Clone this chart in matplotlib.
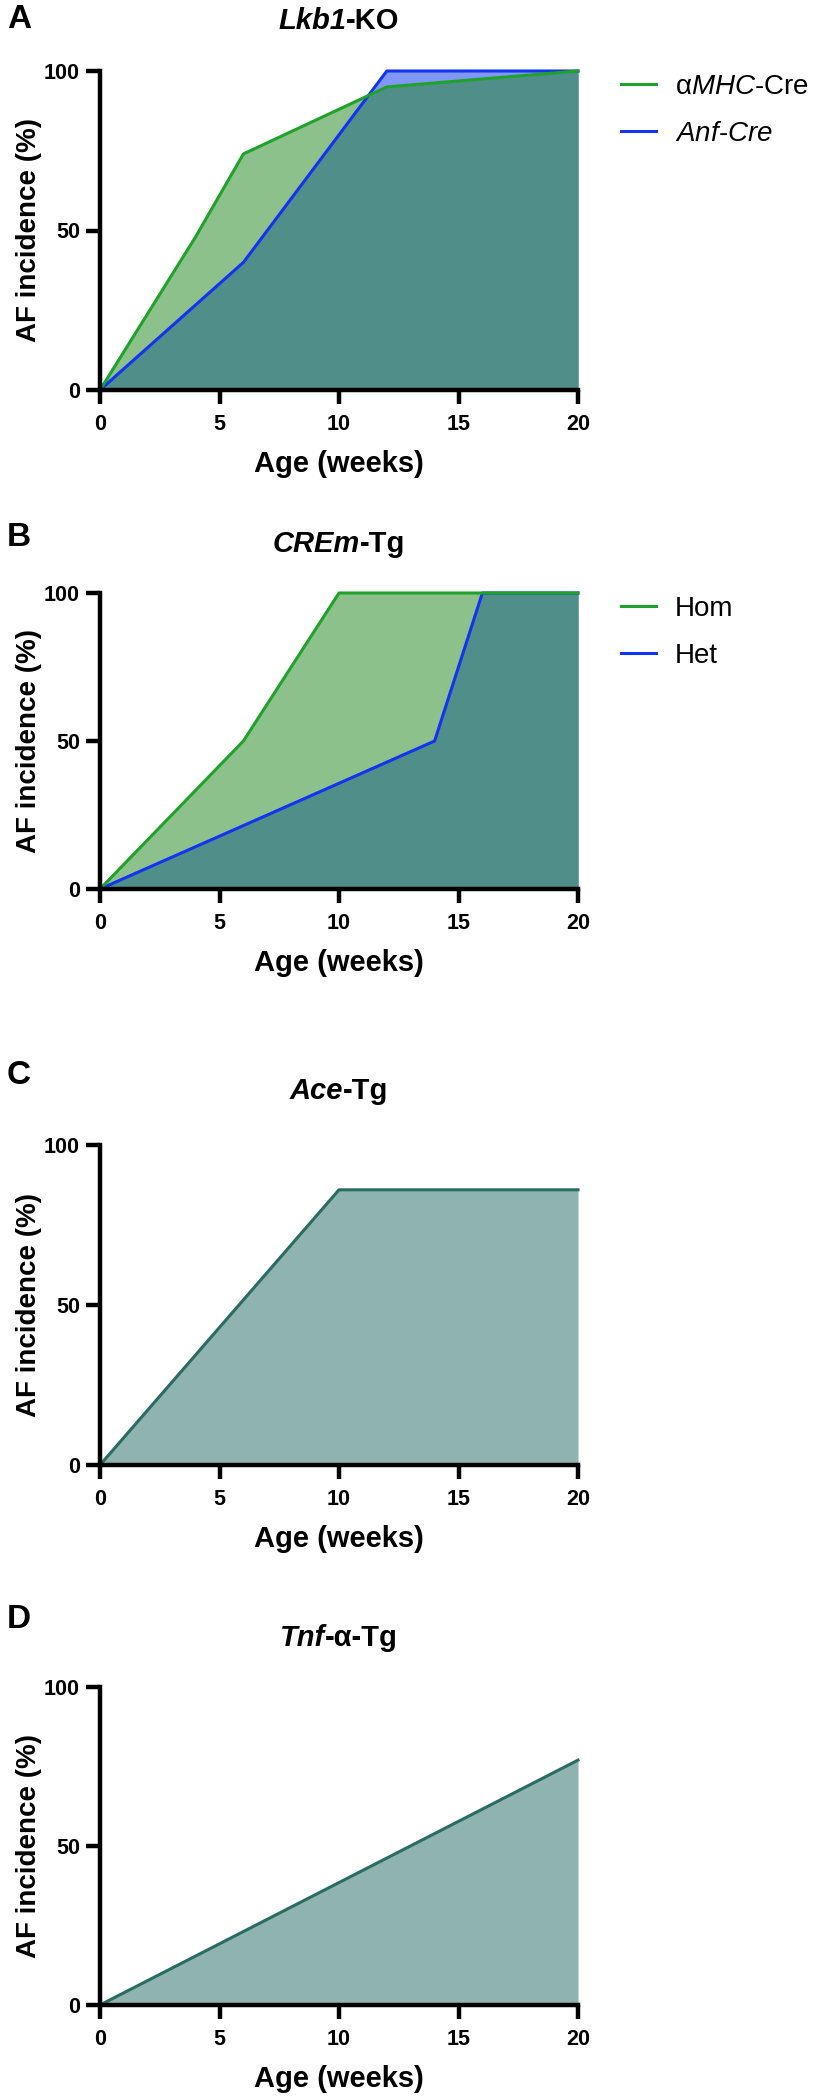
import numpy as np
import matplotlib
matplotlib.use("Agg")
import matplotlib.pyplot as plt
from matplotlib.offsetbox import TextArea, HPacker, AnchoredOffsetbox

plt.rcParams["font.family"] = ["Liberation Sans", "DejaVu Sans"]
plt.rcParams["mathtext.fontset"] = "custom"
plt.rcParams["mathtext.rm"] = "Liberation Sans"
plt.rcParams["mathtext.it"] = "Liberation Sans:italic"

# ---- data (age in weeks, AF incidence in %) ----
lkb1_mhc_x = [0, 4, 6, 12, 20]
lkb1_mhc_y = [0, 48, 74, 95, 100]
lkb1_anf_x = [0, 6, 12, 20]
lkb1_anf_y = [0, 40, 100, 100]

crem_hom_x = [0, 6, 10, 20]
crem_hom_y = [0, 50, 100, 100]
crem_het_x = [0, 14, 16, 20]
crem_het_y = [0, 50, 100, 100]

ace_x = [0, 10, 20]
ace_y = [0, 86, 86]

tnf_x = [0, 20]
tnf_y = [0, 77]

xticks = [0, 5, 10, 15, 20]
yticks = [0, 50, 100]

GREEN = "#1fa22a"
BLUE = "#1233f2"
GREEN_FILL = "#8dc18b"
BLUE_FILL = "#8097f6"
TEAL = "#508f89"
SINGLE_FILL = "#8fb3af"
SINGLE_LINE = "#2a6b62"

W, H = 822, 2100
fig = plt.figure(figsize=(W / 100, H / 100), dpi=100)


def make_axes(top_px, bottom_px):
    left, right = 100, 578
    return fig.add_axes([left / W, 1 - bottom_px / H, (right - left) / W, (bottom_px - top_px) / H])


def style_axes(ax):
    ax.set_xlim(0, 20)
    ax.set_ylim(0, 100)
    ax.set_xticks(xticks)
    ax.set_yticks(yticks)
    for s in ["top", "right"]:
        ax.spines[s].set_visible(False)
    for s in ["left", "bottom"]:
        ax.spines[s].set_linewidth(3.2)
        ax.spines[s].set_zorder(5)
    ax.tick_params(width=3.2, length=10, labelsize=15.5)
    ax.tick_params(axis="y", pad=4.5)
    ax.tick_params(axis="x", pad=7)
    for lab in ax.get_xticklabels() + ax.get_yticklabels():
        lab.set_fontweight("bold")
    ax.set_xlabel("Age (weeks)", fontsize=21, fontweight="bold", labelpad=11)
    ax.set_ylabel("AF incidence (%)", fontsize=20, fontweight="bold")
    ax.yaxis.set_label_coords(-0.121, 0.5)


def title(ax, parts, gap_px):
    boxes = []
    for txt, it in parts:
        boxes.append(TextArea(txt, textprops=dict(fontsize=21, fontweight="bold",
                                                  fontstyle="italic" if it else "normal")))
    pack = HPacker(children=boxes, align="baseline", pad=0, sep=0)
    h_px = ax.get_position().height * H
    box = AnchoredOffsetbox(loc="lower center", child=pack, pad=0, borderpad=0, frameon=False,
                            bbox_to_anchor=(0.5, 1 + gap_px / h_px), bbox_transform=ax.transAxes)
    ax.add_artist(box)


def two_groups(ax, xa, ya, xb, yb, la, lb):
    xf = np.linspace(0, 20, 2001)
    ga = np.interp(xf, xa, ya)
    gb = np.interp(xf, xb, yb)
    ax.fill_between(xa, ya, color=GREEN_FILL, lw=0)
    ax.fill_between(xb, yb, color=BLUE_FILL, lw=0)
    ax.fill_between(xf, np.minimum(ga, gb), color=TEAL, lw=0)
    ax.plot(xb, yb, color=BLUE, lw=2.2, label=lb, clip_on=False, zorder=4)
    ax.plot(xa, ya, color=GREEN, lw=2.2, label=la, clip_on=False, zorder=4)
    h, l = ax.get_legend_handles_labels()
    ax.legend(h[::-1], l[::-1], loc="upper left", bbox_to_anchor=(1.09, 0.99), frameon=False,
              fontsize=20, borderpad=0, borderaxespad=0, handlelength=1.26,
              handletextpad=0.68, labelspacing=0.75)


def one_group(ax, x, y):
    ax.fill_between(x, y, color=SINGLE_FILL, lw=0)
    ax.plot(x, y, color=SINGLE_LINE, lw=2.2, clip_on=False, zorder=4)


# A
axA = make_axes(71, 390)
two_groups(axA, lkb1_mhc_x, lkb1_mhc_y, lkb1_anf_x, lkb1_anf_y,
           r"α$\mathit{MHC}$-Cre", r"$\mathit{Anf}$-$\mathit{Cre}$")
style_axes(axA)
title(axA, [("Lkb1", True), ("-KO", False)], 36)

# B
axB = make_axes(593, 889)
two_groups(axB, crem_hom_x, crem_hom_y, crem_het_x, crem_het_y, "Hom", "Het")
style_axes(axB)
title(axB, [("CREm", True), ("-Tg", False)], 35)

# C
axC = make_axes(1145, 1465)
one_group(axC, ace_x, ace_y)
style_axes(axC)
title(axC, [("Ace", True), ("-Tg", False)], 40)

# D
axD = make_axes(1687, 2005)
one_group(axD, tnf_x, tnf_y)
style_axes(axD)
title(axD, [("Tnf", True), ("-α-Tg", False)], 35)

for letter, ypx in [("A", 4), ("B", 522), ("C", 1060), ("D", 1604)]:
    fig.text(7 / W, 1 - ypx / H, letter, fontsize=24, fontweight="bold", va="top", ha="left")

fig.savefig("out.png", dpi=100)
